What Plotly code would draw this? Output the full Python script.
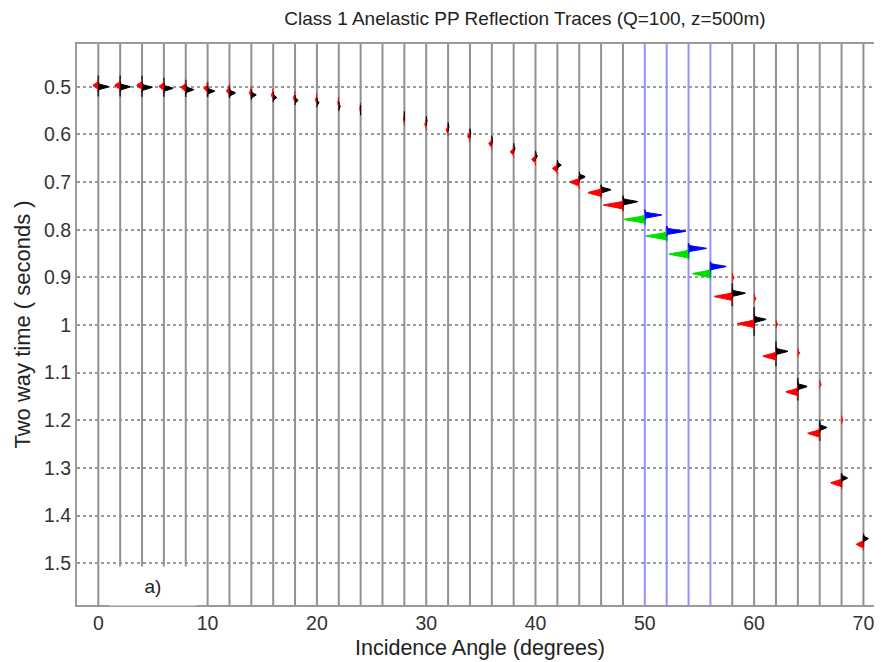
import numpy as np
import plotly.graph_objects as go

# ---------------- data ----------------
angles = [0, 2, 4, 6, 8, 10, 12, 14, 16, 18, 20, 22, 24, 26, 28, 30, 32, 34,
          36, 38, 40, 42, 44, 46, 48, 50, 52, 54, 56, 58, 60, 62, 64, 66, 68, 70]
# time of the positive (right-hand) lobe, seconds
t_pos = [0.500, 0.500, 0.501, 0.503, 0.506, 0.509, 0.513, 0.517, 0.522, 0.528,
         0.533, 0.541, 0.549, 0.555, 0.562, 0.572, 0.585, 0.598, 0.613, 0.629,
         0.645, 0.664, 0.689, 0.716, 0.741, 0.769, 0.803, 0.839, 0.877, 0.933,
         0.988, 1.055, 1.129, 1.215, 1.321, 1.448]
# amplitude of the positive lobe (degrees of offset)
a_pos = [0.95, 0.95, 0.95, 0.85, 0.75, 0.65, 0.55, 0.45, 0.35, 0.28,
         0.2, 0.14, 0.05, 0.0, 0.03, 0.09, 0.09, 0.09, 0.09, 0.14,
         0.18, 0.37, 0.55, 0.9, 1.35, 1.55, 1.75, 1.65, 1.45, 1.2,
         1.1, 1.1, 0.85, 0.65, 0.55, 0.45]
# time of the negative (left-hand) lobe, seconds
t_neg = [0.497, 0.497, 0.497, 0.499, 0.501, 0.503, 0.508, 0.512, 0.517, 0.523,
         0.527, 0.535, 0.547, 0.557, 0.568, 0.578, 0.590, 0.603, 0.619, 0.636,
         0.652, 0.671, 0.700, 0.722, 0.748, 0.778, 0.813, 0.851, 0.892, 0.940,
         0.997, 1.065, 1.140, 1.227, 1.331, 1.460]
# amplitude of the negative lobe (degrees of offset, drawn to the left)
a_neg = [0.5, 0.5, 0.5, 0.45, 0.45, 0.35, 0.28, 0.2, 0.18, 0.18,
         0.14, 0.09, 0.09, 0.0, 0.09, 0.14, 0.18, 0.23, 0.28, 0.32,
         0.37, 0.45, 0.85, 1.2, 1.8, 1.9, 1.9, 1.8, 1.65, 1.65,
         1.55, 1.2, 1.1, 1.1, 1.0, 0.65]
# half-length (s) of the visible wavelet side lobes along each trace
side_len = [0.022, 0.022, 0.022, 0.020, 0.018, 0.016, 0.012, 0.010, 0.008, 0.006,
            0.004, 0.0, 0.0, 0.0, 0.0, 0.0, 0.0, 0.0, 0.0, 0.0,
            0.0, 0.006, 0.008, 0.012, 0.016, 0.016, 0.016, 0.016, 0.016, 0.024,
            0.030, 0.026, 0.024, 0.022, 0.014, 0.012]
# small secondary event seen on the far-offset traces
sec_angles = [58, 60, 62, 64, 66, 68]
sec_times = [0.900, 0.944, 0.998, 1.058, 1.124, 1.199]
sec_amp = [0.18, 0.18, 0.18, 0.18, 0.14, 0.14]

highlight_angles = [50, 52, 54, 56]

x_ticks = [0, 10, 20, 30, 40, 50, 60, 70]
y_ticks = [0.5, 0.6, 0.7, 0.8, 0.9, 1.0, 1.1, 1.2, 1.3, 1.4, 1.5]
y_ticktext = ["0.5", "0.6", "0.7", "0.8", "0.9", "1", "1.1", "1.2", "1.3", "1.4", "1.5"]

x_range = [-1.95, 71.7]
y_range = [1.5875, 0.4104]

title = "Class 1 Anelastic PP Reflection Traces (Q=100, z=500m)"
x_title = "Incidence Angle (degrees)"
y_title = "Two way time ( seconds )"

FONT = "Liberation Sans, Arial, sans-serif"


def lobes(ang, times, amps, sigma, sign):
    xs, ys = [], []
    u = np.linspace(-3, 3, 31)
    for a, t0, amp in zip(ang, times, amps):
        if amp <= 0:
            continue
        tt = t0 + sigma * u
        xx = a + sign * amp * np.exp(-u ** 2)
        xs += list(xx) + [None]
        ys += list(tt) + [None]
    return xs, ys


def pick(lst, idx):
    return [lst[i] for i in idx]


fig = go.Figure()

# trace baselines
y_lo, y_hi = min(y_range), max(y_range)
gx, gy, bx, by = [], [], [], []
for a in angles:
    if a in highlight_angles:
        bx += [a, a, None]
        by += [y_lo, y_hi, None]
    else:
        gx += [a, a, None]
        gy += [y_lo, y_hi, None]
fig.add_trace(go.Scatter(x=gx, y=gy, mode="lines",
                         line=dict(color="#919191", width=2), hoverinfo="skip"))
fig.add_trace(go.Scatter(x=bx, y=by, mode="lines",
                         line=dict(color="#9393ff", width=2), hoverinfo="skip"))

norm = [i for i, a in enumerate(angles) if a not in highlight_angles]
hil = [i for i, a in enumerate(angles) if a in highlight_angles]

# wavelet side lobes along the traces (thin marks on the trace line)
for idx, col in [(norm, "#000000"), (hil, "#0000ff")]:
    sx, sy = [], []
    for i in idx:
        if side_len[i] > 0:
            c = 0.5 * (t_pos[i] + t_neg[i])
            sx += [angles[i], angles[i], None]
            sy += [c - side_len[i], c + side_len[i], None]
    fig.add_trace(go.Scatter(x=sx, y=sy, mode="lines",
                             line=dict(color=col, width=1.6), opacity=0.75,
                             hoverinfo="skip"))

for idx, cpos, cneg in [(norm, "#000000", "#ff0000"), (hil, "#0000ff", "#00e000")]:
    xs, ys = lobes(pick(angles, idx), pick(t_neg, idx), pick(a_neg, idx), 0.0045, -1)
    fig.add_trace(go.Scatter(x=xs, y=ys, mode="lines", fill="toself",
                             fillcolor=cneg, line=dict(color=cneg, width=1),
                             hoverinfo="skip"))
    xs, ys = lobes(pick(angles, idx), pick(t_pos, idx), pick(a_pos, idx), 0.0035, 1)
    fig.add_trace(go.Scatter(x=xs, y=ys, mode="lines", fill="toself",
                             fillcolor=cpos, line=dict(color=cpos, width=1),
                             hoverinfo="skip"))

xs, ys = lobes(sec_angles, sec_times, sec_amp, 0.003, 1)
fig.add_trace(go.Scatter(x=xs, y=ys, mode="lines", fill="toself",
                         fillcolor="#ff0000", line=dict(color="#ff0000", width=1),
                         hoverinfo="skip"))

# page has an 8 px body margin: figure is 874x654, offset by 8 px
fig.update_layout(
    width=874, height=654,
    margin=dict(l=69, r=0, t=36, b=57),
    paper_bgcolor="white", plot_bgcolor="white",
    showlegend=False,
    font=dict(family=FONT, size=19, color="#222222"),
    title=dict(text=title, x=0.5915, xanchor="center", y=0.9847, yanchor="middle",
               font=dict(family=FONT, size=19, color="#222222")),
    annotations=[
        dict(text="a)", x=5, y=1.548, xref="x", yref="y",
             showarrow=False, bgcolor="white", width=84, height=36,
             font=dict(family=FONT, size=19, color="#222222")),
        dict(text=x_title, x=0.5006, y=-0.0766, xref="paper", yref="paper",
             xanchor="center", yanchor="middle", showarrow=False,
             font=dict(family=FONT, size=21.5, color="#222222")),
        dict(text=y_title, x=-0.0683, y=0.5, xref="paper", yref="paper",
             xanchor="center", yanchor="middle", textangle=-90, showarrow=False,
             font=dict(family=FONT, size=22, color="#222222")),
    ],
)
fig.update_xaxes(range=x_range, tickvals=x_ticks, showgrid=False, zeroline=False,
                 showline=True, linecolor="#9a9a9a", linewidth=2, mirror=True,
                 ticks="", automargin=False,
                 tickfont=dict(size=19.5, color="#333333"))
fig.update_yaxes(range=y_range, tickvals=y_ticks, ticktext=y_ticktext,
                 showgrid=True, gridcolor="#9a9a9a", griddash="dot", gridwidth=1.5,
                 zeroline=False, showline=True, linecolor="#9a9a9a", linewidth=2,
                 ticks="", automargin=False,
                 tickfont=dict(size=19.5, color="#333333"))

fig.write_html("out.html")
